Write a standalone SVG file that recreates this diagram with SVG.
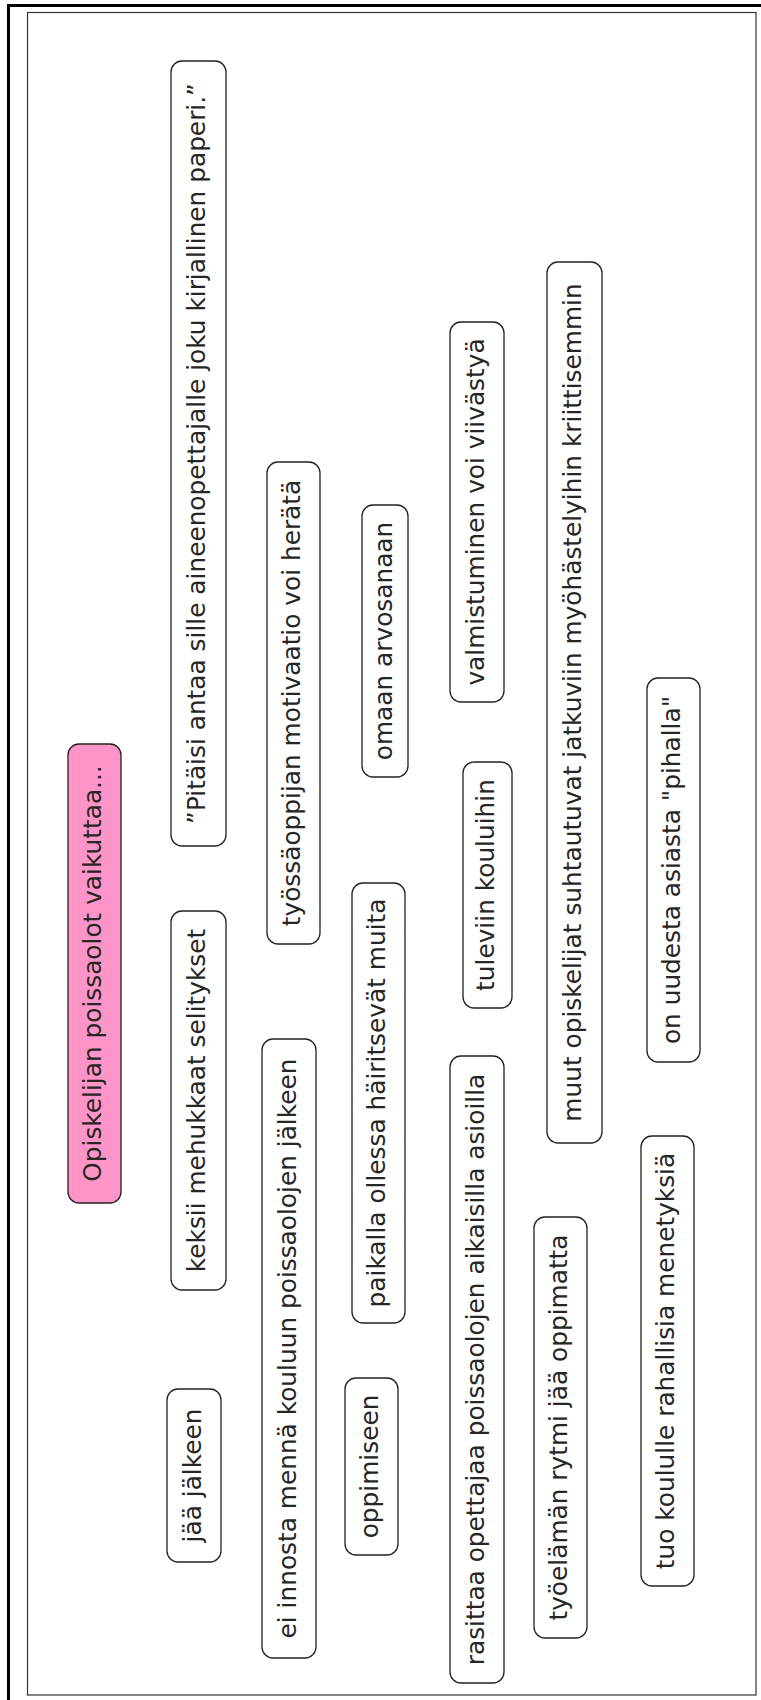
<svg xmlns="http://www.w3.org/2000/svg" width="761" height="1700" viewBox="0 0 761 1700">
<style>
.n rect{fill:#ffffff;stroke:#222222;stroke-width:1.3}
.n.root rect{fill:#ff94c8}
.n text{font-family:"DejaVu Sans",Verdana,sans-serif;font-size:24.8px;fill:#262626;text-anchor:middle}
</style>
<rect x="0" y="0" width="761" height="1700" fill="#ffffff"/>
<rect x="8.5" y="5.5" width="800" height="1800" fill="none" stroke="#000000" stroke-width="3"/>
<rect x="27.5" y="12.5" width="728.5" height="1682.5" fill="none" stroke="#333333" stroke-width="1.2"/>
<g id="connectors"></g>
<g id="root" class="n root"><rect x="68" y="744" width="53" height="459" rx="11"/><text transform="translate(101,973.5) rotate(-90)">Opiskelijan poissaolot vaikuttaa...</text></g>
<g id="n1" class="n"><rect x="171" y="61" width="55" height="785" rx="11"/><text transform="translate(205,453.5) rotate(-90)">”Pitäisi antaa sille aineenopettajalle joku kirjallinen paperi.”</text></g>
<g id="n2" class="n"><rect x="171" y="911" width="55" height="379" rx="11"/><text transform="translate(205,1100.5) rotate(-90)">keksii mehukkaat selitykset</text></g>
<g id="n3" class="n"><rect x="167" y="1389" width="54" height="173" rx="11"/><text transform="translate(200.5,1475.5) rotate(-90)">jää jälkeen</text></g>
<g id="n4" class="n"><rect x="267" y="462" width="53" height="482" rx="11"/><text transform="translate(300,703) rotate(-90)">työssäoppijan motivaatio voi herätä</text></g>
<g id="n5" class="n"><rect x="262" y="1039" width="54" height="619" rx="11"/><text transform="translate(295.5,1348.5) rotate(-90)">ei innosta mennä kouluun poissaolojen jälkeen</text></g>
<g id="n6" class="n"><rect x="362" y="505" width="46" height="272" rx="11"/><text transform="translate(391.5,641) rotate(-90)">omaan arvosanaan</text></g>
<g id="n7" class="n"><rect x="352" y="883" width="53" height="440" rx="11"/><text transform="translate(385,1103) rotate(-90)">paikalla ollessa häiritsevät muita</text></g>
<g id="n8" class="n"><rect x="345" y="1378" width="53" height="177" rx="11"/><text transform="translate(378,1466.5) rotate(-90)">oppimiseen</text></g>
<g id="n9" class="n"><rect x="450" y="322" width="54" height="380" rx="11"/><text transform="translate(483.5,512) rotate(-90)">valmistuminen voi viivästyä</text></g>
<g id="n10" class="n"><rect x="463" y="762" width="49" height="246" rx="11"/><text transform="translate(494,885) rotate(-90)">tuleviin kouluihin</text></g>
<g id="n11" class="n"><rect x="450" y="1056" width="54" height="627" rx="11"/><text transform="translate(483.5,1369.5) rotate(-90)">rasittaa opettajaa poissaolojen aikaisilla asioilla</text></g>
<g id="n12" class="n"><rect x="547" y="262" width="55" height="881" rx="11"/><text transform="translate(581,702.5) rotate(-90)">muut opiskelijat suhtautuvat jatkuviin myöhästelyihin kriittisemmin</text></g>
<g id="n13" class="n"><rect x="534" y="1217" width="53" height="421" rx="11"/><text transform="translate(567,1427.5) rotate(-90)">työelämän rytmi jää oppimatta</text></g>
<g id="n14" class="n"><rect x="647" y="678" width="53" height="384" rx="11"/><text transform="translate(680,870) rotate(-90)">on uudesta asiasta "pihalla"</text></g>
<g id="n15" class="n"><rect x="641" y="1136" width="53" height="450" rx="11"/><text transform="translate(674,1361) rotate(-90)">tuo koululle rahallisia menetyksiä</text></g>
</svg>
